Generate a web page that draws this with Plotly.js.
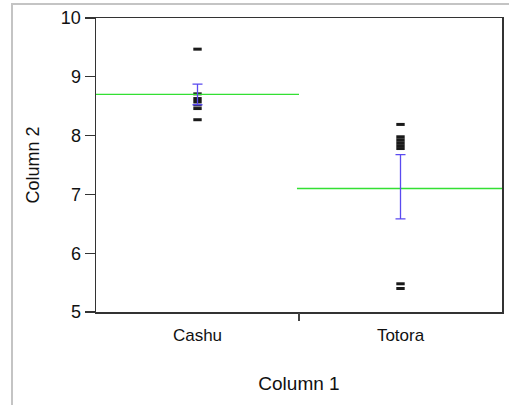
<!DOCTYPE html>
<html>
<head>
<meta charset="utf-8">
<script src="https://cdn.plot.ly/plotly-3.0.1.min.js"></script>
<style>
  html, body { margin: 0; padding: 0; background: #fff; overflow: hidden; }
  #frame { position: absolute; left: 11px; top: 3px; width: 498px; height: 402px;
           border-top: 2px solid #c4c4c4; border-left: 2px solid #c4c4c4; }
  #chart { width: 496px; height: 400px; }
</style>
</head>
<body>
<div id="frame"><div id="chart"></div></div>
<script>
// Categories and data
const categories = ["Cashu", "Totora"];
const cashuValues = [9.47, 8.71, 8.63, 8.58, 8.52, 8.46, 8.27];
const totoraValues = [8.19, 7.98, 7.93, 7.88, 7.83, 7.78, 5.48, 5.40];
const meanValues = [8.70, 7.10];
const errCenters = [8.70, 7.13];
const errHalf = [0.175, 0.545];
const yTicks = [5, 6, 7, 8, 9, 10];

const pointColor = "#1a1a1a";
const meanColor = "#33e033";
const errColor = "#5a4af0";

const traces = [];
// points
[cashuValues, totoraValues].forEach((vals, i) => {
  traces.push({
    type: "scatter", mode: "markers",
    x: vals.map(() => i), y: vals,
    marker: { symbol: "line-ew", size: 6, line: { width: 3, color: pointColor } },
    hoverinfo: "y", showlegend: false
  });
});
// mean lines across each category band
meanValues.forEach((m, i) => {
  traces.push({
    type: "scatter", mode: "lines",
    x: [i - 0.51, i + 0.5], y: [m, m],
    line: { color: meanColor, width: 1.3 },
    showlegend: false, hoverinfo: "skip"
  });
});
// error bars
traces.push({
  type: "scatter", mode: "markers",
  x: categories.map((c, i) => i), y: errCenters,
  marker: { size: 1, color: "rgba(0,0,0,0)" },
  error_y: { type: "data", array: errHalf, visible: true, color: errColor, thickness: 1.3, width: 5 },
  showlegend: false, hoverinfo: "skip"
});
// dummy trace for secondary x axis (divider tick)
traces.push({
  type: "scatter", mode: "markers", x: [0.5], y: [5], xaxis: "x2",
  marker: { size: 1, color: "rgba(0,0,0,0)" }, showlegend: false, hoverinfo: "skip"
});

const font = { family: "Liberation Sans, Arial, sans-serif", color: "#111" };

const layout = {
  width: 496, height: 400,
  margin: { l: 83, r: 7, t: 13, b: 93 },
  paper_bgcolor: "#fff", plot_bgcolor: "#fff",
  font: font,
  xaxis: {
    range: [-0.5, 1.5], tickvals: [0, 1], ticktext: categories,
    ticks: "outside", ticklen: 7, tickcolor: "rgba(0,0,0,0)",
    showgrid: false, zeroline: false,
    showline: true, mirror: true, linecolor: "#333", linewidth: 1.5,
    tickfont: { size: 17, family: font.family, color: "#111" },
    title: { text: "Column 1", font: { size: 19, family: font.family, color: "#111" }, standoff: 33 },
    automargin: false
  },
  xaxis2: {
    overlaying: "x", matches: "x", range: [-0.5, 1.5],
    tickvals: [0.5], ticks: "outside", ticklen: 8, tickwidth: 1.5, tickcolor: "#444",
    showticklabels: false, showgrid: false, zeroline: false, showline: false
  },
  yaxis: {
    range: [5, 10], tickvals: yTicks,
    ticks: "outside", ticklen: 10, tickwidth: 1.3, tickcolor: "#333",
    showgrid: false, zeroline: false,
    showline: true, mirror: true, linecolor: "#333", linewidth: 1.5,
    tickfont: { size: 18, family: font.family, color: "#111" },
    title: { text: "Column 2", font: { size: 18, family: font.family, color: "#111" }, standoff: 16 },
    automargin: false
  }
};

Plotly.newPlot("chart", traces, layout, { displayModeBar: false, staticPlot: true });
</script>
</body>
</html>
